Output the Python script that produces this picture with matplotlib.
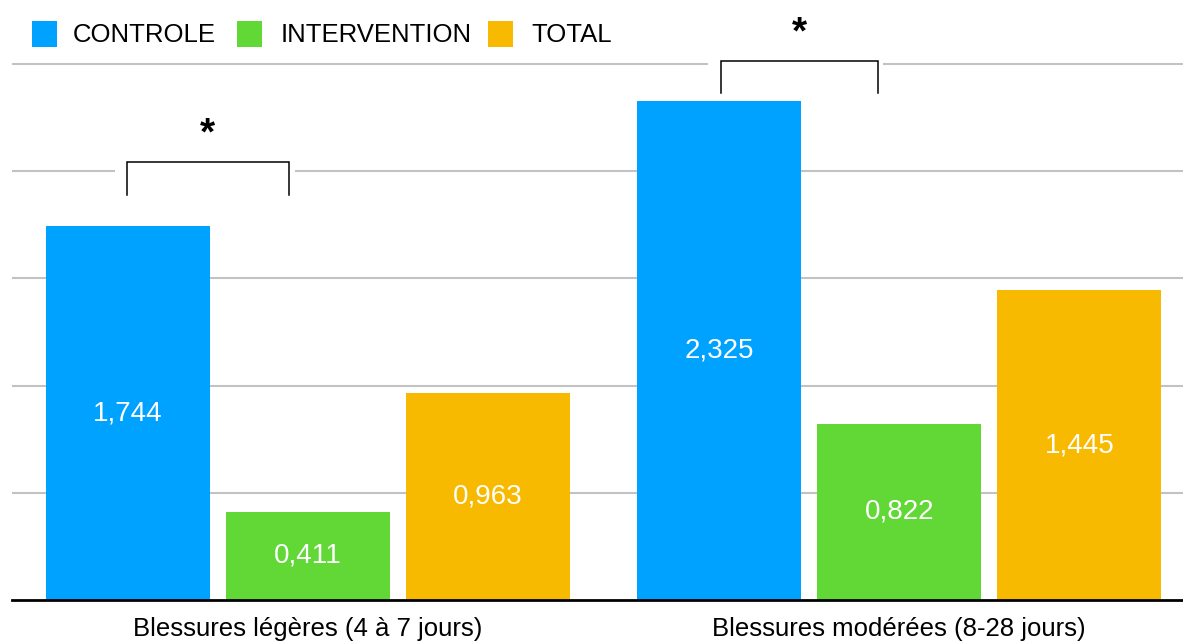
import matplotlib
matplotlib.use("Agg")
import matplotlib.pyplot as plt
from matplotlib.patches import Rectangle
import numpy as np

# --- data -------------------------------------------------------------
categories = ["Blessures légères (4 à 7 jours)", "Blessures modérées (8-28 jours)"]
series_names = ["CONTROLE", "INTERVENTION", "TOTAL"]
controle = [1.744, 2.325]
intervention = [0.411, 0.822]
total = [0.963, 1.445]
value_labels = [["1,744", "2,325"], ["0,411", "0,822"], ["0,963", "1,445"]]
significance = ["*", "*"]

# --- style ------------------------------------------------------------
colors = ["#00A2FF", "#61D836", "#F8BA00"]
FONT = "Liberation Sans"
plt.rcParams["font.family"] = [FONT, "DejaVu Sans"]

W, H, DPI = 1183, 641, 100
fig = plt.figure(figsize=(W / DPI, H / DPI), dpi=DPI)
ax = fig.add_axes([12 / W, 41 / H, 1171 / W, 600 / H])

group_pos = np.array([0.0, 3.283])
bar_w = 0.91
offsets = [-1.0, 0.0, 1.0]
series = [controle, intervention, total]

for vals, off, col, labs in zip(series, offsets, colors, value_labels):
    xs = group_pos + off
    bars = ax.bar(xs, vals, width=bar_w, color=col, zorder=2)
    for b, v, lab in zip(bars, vals, labs):
        ax.text(b.get_x() + b.get_width() / 2, v / 2, lab, ha="center",
                va="center", color="white", fontsize=20, zorder=3)

ax.set_xlim(-1.642, 4.858)
ax.set_ylim(0, 2.798)

# horizontal grid
ax.set_yticks([0.5, 1.0, 1.5, 2.0, 2.5])
ax.yaxis.grid(True, color="#c2c2c2", linewidth=1.5)
ax.set_axisbelow(True)
ax.tick_params(axis="y", length=0, labelleft=False)

ax.set_xticks(group_pos)
ax.set_xticklabels(categories, fontsize=18.5)
ax.tick_params(axis="x", length=0, pad=12)

for s in ["top", "right", "left"]:
    ax.spines[s].set_visible(False)
ax.spines["bottom"].set_linewidth(2.0)
ax.spines["bottom"].set_color("black")
ax.spines["bottom"].set_zorder(4)

# significance brackets (left/right in data x, bottom/top in data y)
brackets = [
    dict(x0=-1.004, x1=-0.105, y0=1.889, y1=2.043, box=(-1.070, -0.071, 1.86, 2.35)),
    dict(x0=2.293, x1=3.164, y0=2.365, y1=2.514, box=(2.220, 3.192, 2.34, 2.79)),
]
for br, mark in zip(brackets, significance):
    bx0, bx1, by0, by1 = br["box"]
    ax.add_patch(Rectangle((bx0, by0), bx1 - bx0, by1 - by0, facecolor="white",
                           edgecolor="none", zorder=1))
    ax.plot([br["x0"], br["x0"], br["x1"], br["x1"]],
            [br["y0"], br["y1"], br["y1"], br["y0"]],
            color="black", linewidth=1.1, zorder=3, solid_joinstyle="miter")
    ax.text((br["x0"] + br["x1"]) / 2, br["y1"] + 0.08, mark, ha="center",
            va="baseline", fontsize=28, fontweight="bold", zorder=3)

# legend drawn across the top
leg_sq = [32, 237, 488]
leg_tx = [73, 281, 531]
for sx, tx, col, name in zip(leg_sq, leg_tx, colors, series_names):
    fig.patches.append(Rectangle((sx / W, 1 - 47 / H), 25 / W, 26 / H,
                                 facecolor=col, edgecolor="none",
                                 transform=fig.transFigure, figure=fig))
    fig.text(tx / W, 1 - 33 / H, name, ha="left", va="center_baseline",
             fontsize=18.5)

fig.savefig("out.png", dpi=DPI)
